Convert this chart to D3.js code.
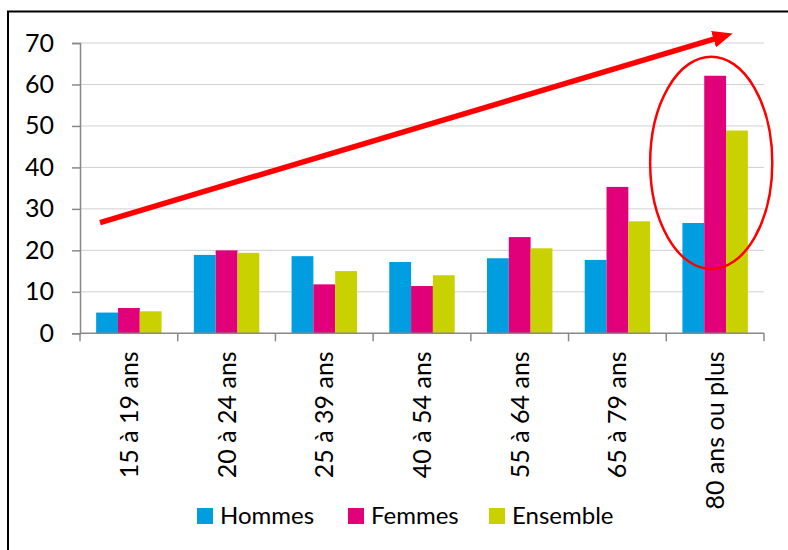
<!DOCTYPE html>
<html>
<head>
<meta charset="utf-8">
<script src="https://cdn.jsdelivr.net/npm/d3@7"></script>
<style>
  body { margin: 0; background: #fff; }
  text { font-family: Lato, "Open Sans", sans-serif; fill: #000; }
</style>
</head>
<body>
<svg class="chart" width="788" height="550"></svg>
<script>
// data
var categories = ["15 à 19 ans", "20 à 24 ans", "25 à 39 ans", "40 à 54 ans", "55 à 64 ans", "65 à 79 ans", "80 ans ou plus"];
var series = ["Hommes", "Femmes", "Ensemble"];
var hommes = [5.0, 18.9, 18.6, 17.2, 18.1, 17.7, 26.6];
var femmes = [6.1, 20.0, 11.8, 11.4, 23.2, 35.3, 62.1];
var ensemble = [5.3, 19.4, 15.0, 14.0, 20.5, 27.0, 48.9];
var yTicks = [0, 10, 20, 30, 40, 50, 60, 70];
var colors = ["#009ee0", "#e2007a", "#c9d200"];

// annotation, in data units (category index, value)
var arrowFrom = [0.205, 26.7], arrowTo = [6.68, 72.3];
var ellipse = { cat: 6.46, value: 41.1, rcat: 0.625, rvalue: 25.6 };

var svg = d3.select(".chart"),
    margin = { top: 43, right: 24, bottom: 216.7, left: 80 },
    width = +svg.attr("width") - margin.left - margin.right,
    height = +svg.attr("height") - margin.top - margin.bottom;

// frame (only left and top edges show)
svg.append("rect")
    .attr("x", 8).attr("y", 11.5)
    .attr("width", 900).attr("height", 700)
    .attr("fill", "none")
    .attr("stroke", "#000")
    .attr("stroke-width", 2);

var x0 = d3.scaleBand().domain(categories).range([0, width]).padding(0),
    x1 = d3.scaleBand().domain(series).range([0, x0.bandwidth()]).paddingInner(0).paddingOuter(0.74),
    xi = d3.scaleLinear().domain([0, categories.length]).range([0, width]),
    y = d3.scaleLinear().domain([0, 70]).range([height, 0]);

var g = svg.append("g")
    .attr("transform", "translate(" + margin.left + "," + margin.top + ")");

// gridlines
g.append("g")
    .selectAll("line")
    .data(yTicks.slice(1))
    .enter().append("line")
    .attr("x1", 0).attr("x2", width)
    .attr("y1", function(d) { return y(d); })
    .attr("y2", function(d) { return y(d); })
    .attr("stroke", "#d0d0d0")
    .attr("stroke-width", 1);

// bars
var table = categories.map(function(c, i) {
    return { cat: c, values: [hommes[i], femmes[i], ensemble[i]] };
});

g.append("g")
    .selectAll("g")
    .data(table)
    .enter().append("g")
    .attr("transform", function(d) { return "translate(" + x0(d.cat) + ",0)"; })
    .selectAll("rect")
    .data(function(d) { return d.values.map(function(v, j) { return { s: series[j], v: v, j: j }; }); })
    .enter().append("rect")
    .attr("x", function(d) { return x1(d.s); })
    .attr("y", function(d) { return y(d.v); })
    .attr("width", x1.bandwidth())
    .attr("height", function(d) { return height - y(d.v); })
    .attr("fill", function(d) { return colors[d.j]; });

// y axis
var yAxis = g.append("g")
    .call(d3.axisLeft(y).tickValues(yTicks).tickSize(8).tickPadding(18));
yAxis.select(".domain").attr("stroke", "#888").attr("stroke-width", 1.5);
yAxis.selectAll(".tick line").attr("stroke", "#888").attr("stroke-width", 1.5);
yAxis.selectAll(".tick text")
    .attr("font-size", "25px")
    .attr("font-family", "Lato, sans-serif")
    .attr("fill", "#000");

// x axis: ticks at band edges
var xAxis = g.append("g")
    .attr("transform", "translate(0," + height + ")");
xAxis.append("line")
    .attr("x1", 0).attr("x2", width)
    .attr("stroke", "#888").attr("stroke-width", 1.5);
xAxis.selectAll(".edge")
    .data(d3.range(categories.length + 1))
    .enter().append("line")
    .attr("class", "edge")
    .attr("x1", function(d) { return xi(d); })
    .attr("x2", function(d) { return xi(d); })
    .attr("y1", 0).attr("y2", 8)
    .attr("stroke", "#888").attr("stroke-width", 1.5);
xAxis.selectAll(".lab")
    .data(categories)
    .enter().append("text")
    .attr("class", "lab")
    .attr("transform", function(d) {
        return "translate(" + (x0(d) + x0.bandwidth() / 2 + 9) + ",18) rotate(-90)";
    })
    .attr("text-anchor", "end")
    .attr("font-size", "25px")
    .text(function(d) { return d; });

// red arrow
var defs = svg.append("defs");
defs.append("marker")
    .attr("id", "head")
    .attr("markerUnits", "userSpaceOnUse")
    .attr("viewBox", "0 0 20 17")
    .attr("markerWidth", 20).attr("markerHeight", 17)
    .attr("refX", 20).attr("refY", 8.5)
    .attr("orient", "auto")
    .append("path")
    .attr("d", "M0,0L20,8.5L0,17Z")
    .attr("fill", "#ff0000");

var ax1 = xi(arrowFrom[0]), ay1 = y(arrowFrom[1]),
    ax2 = xi(arrowTo[0]), ay2 = y(arrowTo[1]),
    len = Math.hypot(ax2 - ax1, ay2 - ay1);

g.append("path")
    .attr("d", "M" + ax1 + "," + ay1 + "L" + ax2 + "," + ay2)
    .attr("stroke", "#ff0000")
    .attr("stroke-width", 5.5)
    .attr("fill", "none")
    .attr("stroke-dasharray", (len - 12) + "," + 100)
    .attr("marker-end", "url(#head)");

// red ellipse
g.append("ellipse")
    .attr("cx", xi(ellipse.cat))
    .attr("cy", y(ellipse.value))
    .attr("rx", xi(ellipse.rcat) - xi(0))
    .attr("ry", y(0) - y(ellipse.rvalue))
    .attr("fill", "none")
    .attr("stroke", "#ff0000")
    .attr("stroke-width", 2.5);

// legend
var legendX = [197, 348, 489];
var legend = svg.append("g")
    .selectAll("g")
    .data(series)
    .enter().append("g")
    .attr("transform", function(d, i) { return "translate(" + legendX[i] + ",508)"; });
legend.append("rect")
    .attr("width", 16).attr("height", 16)
    .attr("fill", function(d, i) { return colors[i]; });
legend.append("text")
    .attr("x", 23).attr("y", 16)
    .attr("font-size", "24px")
    .text(function(d) { return d; });
</script>
</body>
</html>
